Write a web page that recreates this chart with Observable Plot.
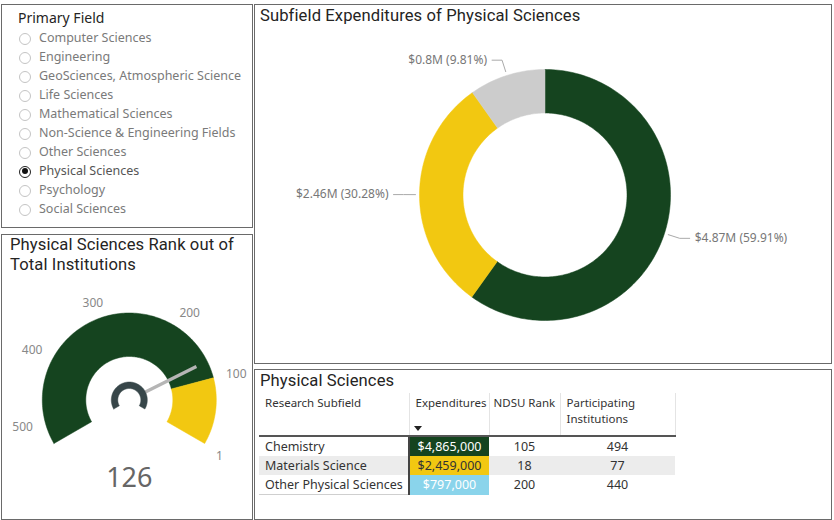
<!DOCTYPE html>
<html><head><meta charset="utf-8">
<script src="https://cdn.jsdelivr.net/npm/d3@7"></script>
<script src="https://cdn.jsdelivr.net/npm/@observablehq/plot@0.6"></script>
<style>
  html,body{margin:0;padding:0;background:#fff;}
  body{position:relative;width:834px;height:520px;overflow:hidden;font-family:"Noto Sans",sans-serif;color:#333;}
  .panel{position:absolute;box-sizing:border-box;border:1.5px solid #6a6a6a;}
  .title{position:absolute;font-family:Roboto,sans-serif;font-size:16.6px;letter-spacing:0.1px;color:#252423;white-space:nowrap;line-height:19px;}
  .abs{position:absolute;}
  .item{position:absolute;left:39px;font-size:12.5px;color:#7a7a7a;line-height:16px;white-space:nowrap;}
  .radio{position:absolute;left:19px;width:12px;height:12px;border:1px solid #c4c4c4;border-radius:50%;box-sizing:border-box;}
  .radio.sel{border:1.5px solid #222;}
  .radio.sel::after{content:"";position:absolute;left:1.5px;top:1.5px;width:6px;height:6px;border-radius:50%;background:#111;}
  table{position:absolute;left:259px;top:393px;border-collapse:collapse;font-size:12.5px;table-layout:fixed;}
  th{font-weight:400;font-size:11.5px;color:#333;text-align:left;vertical-align:top;padding:2px 0 0 6px;height:40px;border-right:1px solid #e4e4e4;border-bottom:2px solid #555;line-height:16px;}
  td{padding:0 0 0 6px;height:19px;line-height:19px;white-space:nowrap;color:#333;}
  td.num{text-align:center;padding:0;}
  td.exp{text-align:center;padding:0;border-left:2px solid #444;}
  tr.alt td{background:#ececec;}
</style>
</head><body>
<div class="panel" style="left:1px;top:4px;width:252px;height:224px;"></div>
<div class="panel" style="left:1px;top:234px;width:252px;height:286px;"></div>
<div class="panel" style="left:254px;top:4px;width:578px;height:360px;"></div>
<div class="panel" style="left:254px;top:369px;width:578px;height:151px;"></div>

<div class="title" style="left:18px;top:8px;font-family:'Noto Sans',sans-serif;font-size:14px;letter-spacing:0;">Primary Field</div>
<div id="slicer"></div>

<div class="title" style="left:10px;top:235px;line-height:19.5px;">Physical Sciences Rank out of<br>Total Institutions</div>
<div id="gauge" class="abs" style="left:2px;top:234px;"></div>

<div class="title" style="left:260px;top:6px;">Subfield Expenditures of Physical Sciences</div>
<div id="donut" class="abs" style="left:255px;top:4px;"></div>

<div class="title" style="left:260px;top:371px;">Physical Sciences</div>
<div id="table"></div>
<div class="abs" style="left:414px;top:426px;width:0;height:0;border-left:4px solid transparent;border-right:4px solid transparent;border-top:5px solid #222;"></div>

<script>
// ---------- data ----------
const fields = ["Computer Sciences","Engineering","GeoSciences, Atmospheric Science","Life Sciences","Mathematical Sciences","Non-Science & Engineering Fields","Other Sciences","Physical Sciences","Psychology","Social Sciences"];
const selectedField = "Physical Sciences";

const subfields = ["Chemistry","Materials Science","Other Physical Sciences"];
const expenditures = [4865000, 2459000, 797000];
const ndsuRank = [105, 18, 200];
const participating = [494, 77, 440];
const donutColors = ["#15441f", "#f2c811", "#cccccc"];
const cellColors = ["#15441f", "#f2c811", "#8ad4eb"];
const cellText = ["#ffffff", "#333333", "#ffffff"];

const gaugeMin = 1;
const gaugeMax = 532;
const gaugeFill = 100;
const gaugeValue = 126;
const gaugeTicks = [1, 100, 200, 300, 400, 500];

// ---------- helpers ----------
const rad = a => a * Math.PI / 180;
const pol = (r, a) => ({x: r * Math.sin(rad(a)), y: r * Math.cos(rad(a))});
function arcPoly(r0, r1, a0, a1) {
  const n = Math.max(8, Math.ceil(Math.abs(a1 - a0) / 1.2));
  const pts = [];
  for (let i = 0; i <= n; i++) pts.push(pol(r1, a0 + (a1 - a0) * i / n));
  for (let i = n; i >= 0; i--) pts.push(pol(r0, a0 + (a1 - a0) * i / n));
  pts.push(pts[0]);
  return pts;
}
const FONT = "Noto Sans, sans-serif";

// ---------- slicer ----------
const slicer = document.getElementById("slicer");
fields.forEach((f, i) => {
  const cy = 38.5 + 19 * i;
  const r = document.createElement("div");
  r.className = "radio" + (f === selectedField ? " sel" : "");
  r.style.top = (cy - 6) + "px";
  slicer.appendChild(r);
  const t = document.createElement("div");
  t.className = "item";
  t.style.top = (cy - 8.5) + "px";
  if (f === selectedField) t.style.color = "#555";
  t.textContent = f;
  slicer.appendChild(t);
});

// ---------- donut ----------
{
  const W = 577, H = 359, cx = 289.5, cy = 190.5;
  const rOut = 125.5, rIn = 82;
  const total = d3.sum(expenditures);
  let acc = 0;
  const slices = expenditures.map((v, i) => {
    const a0 = acc / total * 360; acc += v; const a1 = acc / total * 360;
    return {i, v, a0, a1, mid: (a0 + a1) / 2, color: donutColors[i]};
  });
  const fmtM = v => "$" + (+(v / 1e6).toFixed(2)).toString() + "M";
  const labelOf = s => `${fmtM(s.v)} (${(s.v / total * 100).toFixed(2)}%)`;
  const leaders = slices.map(s => {
    const p1 = pol(rOut + 4, s.mid), p2 = pol(rOut + 16, s.mid);
    const right = Math.sin(rad(s.mid)) > 0;
    const p3 = {x: p2.x + (right ? 10 : -10), y: p2.y};
    return {pts: [p1, p2, p3], right, tx: p3.x + (right ? 5 : -5), ty: p3.y, label: labelOf(s)};
  });
  const plot = Plot.plot({
    width: W, height: H, margin: 0,
    style: {background: "transparent", overflow: "visible"},
    x: {domain: [-cx, W - cx], axis: null},
    y: {domain: [cy - H, cy], axis: null},
    marks: [
      ...slices.map(s => Plot.line(arcPoly(rIn, rOut, s.a0, s.a1), {x: "x", y: "y", fill: s.color, stroke: s.color, strokeWidth: 0.5, curve: "linear"})),
      ...leaders.map(l => Plot.line(l.pts, {x: "x", y: "y", stroke: "#aaaaaa", strokeWidth: 1, curve: "linear"})),
      Plot.text(leaders.filter(l => l.right), {x: "tx", y: "ty", text: "label", textAnchor: "start", fill: "#777", fontSize: 12, fontFamily: FONT}),
      Plot.text(leaders.filter(l => !l.right), {x: "tx", y: "ty", text: "label", textAnchor: "end", fill: "#777", fontSize: 12, fontFamily: FONT})
    ]
  });
  document.getElementById("donut").appendChild(plot);
}

// ---------- gauge ----------
{
  const W = 249, H = 285, cx = 126.8, cy = 165.5;
  const rOut = 87, rIn = 43.5;
  const ang = d3.scaleLinear().domain([gaugeMin, gaugeMax]).range([120, -120]);
  const segs = [
    {a0: ang(gaugeMax), a1: ang(gaugeFill), color: "#15441f"},
    {a0: ang(gaugeFill), a1: ang(gaugeMin), color: "#f2c811"}
  ];
  const ticks = gaugeTicks.map(t => {
    const a = ang(t), p = pol(100, a);
    return {t, x: p.x, y: p.y - (Math.abs(a) > 110 ? 6 : 0), right: a > 0};
  });
  const needle = [pol(18, ang(gaugeValue)), pol(75, ang(gaugeValue))];
  const plot = Plot.plot({
    width: W, height: H, margin: 0,
    style: {background: "transparent", overflow: "visible"},
    x: {domain: [-cx, W - cx], axis: null},
    y: {domain: [cy - H, cy], axis: null},
    marks: [
      ...segs.map(s => Plot.line(arcPoly(rIn, rOut, s.a0, s.a1), {x: "x", y: "y", fill: s.color, stroke: s.color, strokeWidth: 0.5, curve: "linear"})),
      Plot.line(needle, {x: "x", y: "y", stroke: "#b5b5b5", strokeWidth: 3.2, strokeLinecap: "butt"}),
      Plot.line(arcPoly(11.5, 18, -120, 120), {x: "x", y: "y", fill: "#374649", stroke: "#374649", strokeWidth: 0.5, curve: "linear"}),
      Plot.text(ticks.filter(d => d.right), {x: "x", y: "y", text: d => String(d.t), textAnchor: "start", fill: "#888", fontSize: 12, fontFamily: FONT}),
      Plot.text(ticks.filter(d => !d.right), {x: "x", y: "y", text: d => String(d.t), textAnchor: "end", fill: "#888", fontSize: 12, fontFamily: FONT}),
      Plot.text([gaugeValue], {x: () => 0, y: () => -78, text: d => String(d), fill: "#666", fontSize: 27, fontFamily: FONT})
    ]
  });
  document.getElementById("gauge").appendChild(plot);
}

// ---------- table ----------
{
  const fmt = d3.format("$,");
  let html = '<table><colgroup><col style="width:150px"><col style="width:80px"><col style="width:71px"><col style="width:115px"></colgroup>';
  html += '<tr><th>Research Subfield</th><th>Expenditures</th><th style="padding-left:4px">NDSU Rank</th><th><div style="line-height:15px">Participating</div><div style="line-height:15px;margin-top:1px">Institutions</div></th></tr>';
  subfields.forEach((s, i) => {
    const bcol = i === subfields.length - 1 ? "border-bottom:1px solid #cfcfcf;" : "";
    html += `<tr class="${i % 2 ? "alt" : ""}"><td style="${bcol}">${s}</td>` +
      `<td class="exp" style="background:${cellColors[i]};color:${cellText[i]}">${fmt(expenditures[i])}</td>` +
      `<td class="num">${ndsuRank[i]}</td><td class="num">${participating[i]}</td></tr>`;
  });
  html += '</table>';
  document.getElementById("table").innerHTML = html;
}
</script>
</body></html>
